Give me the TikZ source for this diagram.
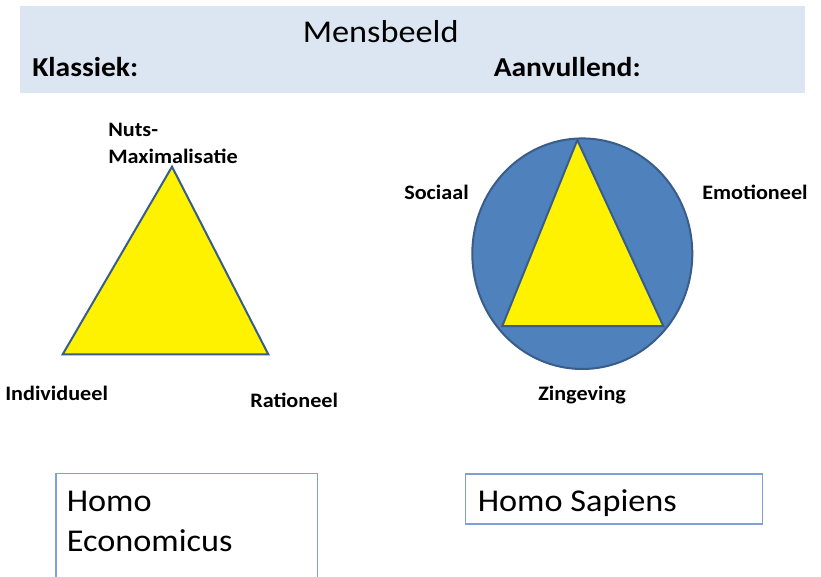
\documentclass[tikz,border=0pt]{standalone}
\usepackage{fontspec}
\setmainfont{Carlito}[FakeStretch=1.08]
\definecolor{hdrblue}{RGB}{220,230,242}
\definecolor{circblue}{RGB}{79,129,189}
\definecolor{edgeblue}{RGB}{56,93,138}
\definecolor{boxblue}{RGB}{126,160,215}
\begin{document}
\begin{tikzpicture}[x=0.75pt,y=-0.75pt,
  lbl/.style={inner sep=0pt,anchor=base west,font=\fontsize{15.4}{18}\selectfont\bfseries},
  hdr/.style={inner sep=0pt,anchor=base west,font=\fontsize{20.5}{24}\selectfont\bfseries},
  big/.style={inner sep=0pt,anchor=base west,font=\fontsize{23.8}{30}\selectfont},
  tri/.style={fill=yellow,draw=edgeblue,line width=1.5pt,line join=miter},
  boxstyle/.style={draw=boxblue,line width=0.8pt}]
\useasboundingbox (0,0) rectangle (821,576);
\clip (0,0) rectangle (821,576);
% header band
\fill[hdrblue] (20,6) rectangle (805,93);
\node[big] (title) at (302.5,42.7) {Mensbeeld};
\node[hdr] (klassiek) at (32,76.5) {Klassiek:};
\node[hdr] (aanv) at (493.5,76.5) {Aanvullend:};
% left triangle
\coordinate (LA) at (172,166.7);
\coordinate (LB) at (62.7,354.3);
\coordinate (LC) at (268.3,354.3);
\draw[tri] (LA) -- (LB) -- (LC) -- cycle;
\node[lbl] (nuts) at (108,136.7) {Nuts-};
\node[lbl] (maxi) at (108,163.3) {Maximalisatie};
\node[lbl] (indiv) at (5,400) {Individueel};
\node[lbl] (ratio) at (250,407.7) {Rationeel};
% circle with triangle
\coordinate (CC) at (582.3,253.7);
\draw[fill=circblue,draw=edgeblue,line width=1.5pt] (CC) ellipse [x radius=110,y radius=115.3];
\coordinate (RA) at (577.3,140);
\coordinate (RB) at (502.3,326);
\coordinate (RC) at (663.3,326);
\draw[tri] (RA) -- (RB) -- (RC) -- cycle;
\node[lbl] (sociaal) at (404,199) {Sociaal};
\node[lbl] (emo) at (702,199) {Emotioneel};
\node[lbl] (zin) at (538,400) {Zingeving};
% boxes
\draw[boxstyle] (56,590) -- (56,473.3) -- (317.3,473.3) -- (317.3,590);
\node[big] (homo1) at (66.5,511.7) {Homo};
\node[big] (econ) at (66.5,551.7) {Economicus};
\draw[boxstyle] (465.7,474) rectangle (762.3,524);
\node[big] (sapiens) at (477.5,511.7) {Homo Sapiens};
\end{tikzpicture}
\end{document}
